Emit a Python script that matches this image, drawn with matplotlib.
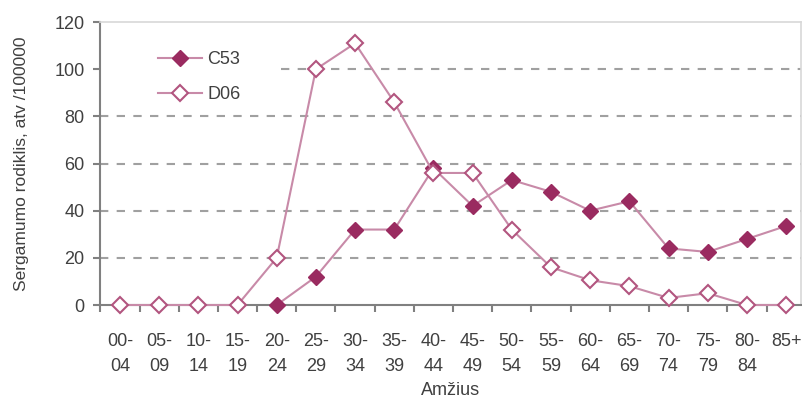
import numpy as np
import matplotlib
matplotlib.use("Agg")
import matplotlib.pyplot as plt

age_groups = ["00-\n04", "05-\n09", "10-\n14", "15-\n19", "20-\n24", "25-\n29",
              "30-\n34", "35-\n39", "40-\n44", "45-\n49", "50-\n54", "55-\n59",
              "60-\n64", "65-\n69", "70-\n74", "75-\n79", "80-\n84", "85+"]
c53 = [np.nan, np.nan, np.nan, np.nan, 0, 12, 32, 32, 58, 42, 53, 48, 40, 44, 24, 22.5, 28, 33.5]
d06 = [0, 0, 0, 0, 20, 100, 111, 86, 56, 56, 32, 16, 10.5, 8, 3, 5, 0, 0]

plt.rcParams["font.family"] = ["Liberation Sans", "DejaVu Sans"]
text_col = "#404040"
line_col = "#c88aa8"
fill_col = "#9a2b60"

fig = plt.figure(figsize=(8.03, 4.01), dpi=100)
ax = fig.add_axes([0.1245, 0.2394, 0.873, 0.7056])

x = np.arange(len(age_groups))
ax.plot(x, c53, color=line_col, lw=1.5, marker="D", ms=8, clip_on=False,
        mfc=fill_col, mec=fill_col, label="C53", zorder=3)
ax.plot(x, d06, color=line_col, lw=1.5, marker="D", ms=8, clip_on=False,
        mfc="white", mec="#b2557f", mew=1.5, label="D06", zorder=3)

ax.set_xlim(-0.51, 17.38)
ax.set_ylim(0, 120)
ax.set_yticks(range(0, 121, 20))
for v in range(20, 101, 20):
    # the 100 line is hidden behind the legend in the original
    start = 0.258 if v == 100 else 0
    ax.axhline(v, xmin=start, color="#a0a0a0", lw=1.5, ls=(0, (4, 4)), zorder=1)

ax.set_xticks(x)
ax.set_xticklabels(age_groups, fontsize=13, color=text_col, linespacing=1.6)
ax.set_xticks(np.arange(-0.5, 17.5, 1), minor=True)
ax.tick_params(axis="x", which="major", length=0, pad=20)
ax.tick_params(axis="x", which="minor", length=5, color="#808080", width=1.5)
ax.tick_params(axis="y", length=5, color="#808080", width=1.5,
               labelsize=13, labelcolor=text_col, pad=6)

for side in ["left", "bottom"]:
    ax.spines[side].set_color("#808080")
    ax.spines[side].set_linewidth(1.5)
for side in ["top", "right"]:
    ax.spines[side].set_color("#d8d8d8")
    ax.spines[side].set_linewidth(1.2)

ax.set_xlabel("Amžius", fontsize=13, color=text_col, labelpad=5)
ax.set_ylabel("Sergamumo rodiklis, atv /100000", fontsize=12.5, color=text_col, labelpad=18)

leg = ax.legend(loc="upper left", bbox_to_anchor=(0.05, 0.98), frameon=False,
                fontsize=13, handlelength=2.4, handletextpad=0.3,
                labelspacing=1.0, borderpad=0.8)
for t in leg.get_texts():
    t.set_color(text_col)

fig.savefig("out.png", dpi=100)
